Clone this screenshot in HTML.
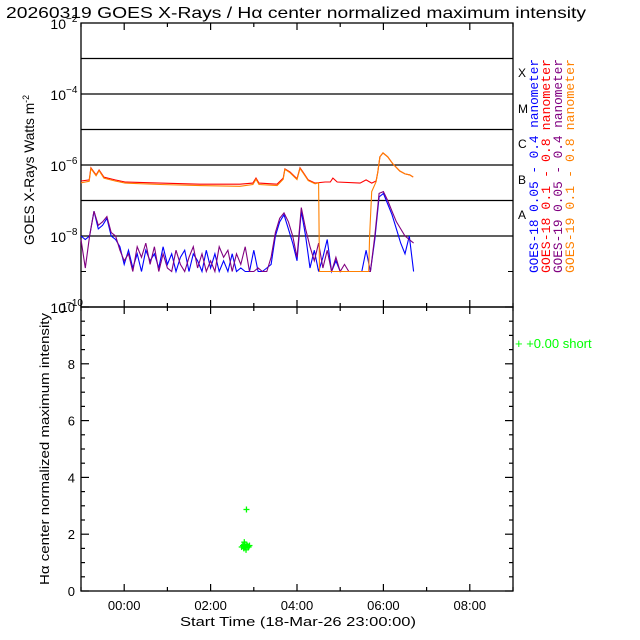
<!DOCTYPE html>
<html><head><meta charset="utf-8"><style>
html,body{margin:0;padding:0;background:#fff;}
svg{display:block;font-family:"Liberation Sans",sans-serif;}
</style></head><body>
<svg id="chart" width="640" height="640" viewBox="0 0 640 640" xmlns="http://www.w3.org/2000/svg">
<rect width="640" height="640" fill="#fff"/>
<text x="6" y="18" font-size="16" textLength="580" lengthAdjust="spacingAndGlyphs">20260319 GOES X-Rays / Hα center normalized maximum intensity</text>
<g id="topPanel"></g>
<g id="botPanel"></g>
<text transform="translate(34,170) rotate(-90)" text-anchor="middle" font-size="14" textLength="150" lengthAdjust="spacingAndGlyphs">GOES X-Rays Watts m<tspan dy="-5" font-size="9">-2</tspan></text>
<text transform="translate(49,449) rotate(-90)" text-anchor="middle" font-size="13" textLength="272" lengthAdjust="spacingAndGlyphs">Hα center normalized maximum intensity</text>
<text x="298" y="626" text-anchor="middle" font-size="13" textLength="236" lengthAdjust="spacingAndGlyphs">Start Time (18-Mar-26 23:00:00)</text>
<g font-family="Liberation Mono, monospace" font-size="12.5">
<text transform="translate(538,273) rotate(-90)" fill="#0000ff" textLength="214" lengthAdjust="spacingAndGlyphs">GOES-18 0.05 - 0.4 nanometer</text>
<text transform="translate(550,273) rotate(-90)" fill="#ff0000" textLength="214" lengthAdjust="spacingAndGlyphs">GOES-18 0.1  - 0.8 nanometer</text>
<text transform="translate(562,273) rotate(-90)" fill="#800080" textLength="214" lengthAdjust="spacingAndGlyphs">GOES-19 0.05 - 0.4 nanometer</text>
<text transform="translate(574,273) rotate(-90)" fill="#ff8000" textLength="214" lengthAdjust="spacingAndGlyphs">GOES-19 0.1  - 0.8 nanometer</text>
</g>
<g font-size="12">
<text x="518" y="77">X</text><text x="518" y="113">M</text><text x="518" y="148">C</text><text x="518" y="184">B</text><text x="518" y="219">A</text>
</g>
<text x="515" y="348" fill="#00ff00" font-size="13">+  +0.00 short</text>
</svg>
<script>
// X-ray data: hours relative to 00:00 on 19-Mar, log10 flux
const longTimes = [-1.0,-0.81,-0.77,-0.65,-0.58,-0.47,-0.21,0.02,0.83,1.75,2.68,2.98,3.05,3.12,3.54,3.68,3.72,3.84,4.0,4.07,4.14,4.26,4.42,4.65,4.77,4.83,4.93,5.46,5.6,5.73,5.83,5.87,5.92,5.99,6.1,6.22,6.38,6.5,6.61,6.69];
const goes18Long = [-6.45,-6.42,-6.08,-6.28,-6.14,-6.34,-6.42,-6.48,-6.51,-6.54,-6.54,-6.51,-6.37,-6.51,-6.54,-6.37,-6.11,-6.2,-6.39,-6.08,-6.2,-6.42,-6.51,-6.48,-6.48,-6.37,-6.48,-6.51,-6.42,-6.51,-6.45,-6.2,-5.77,-5.66,-5.77,-5.97,-6.17,-6.25,-6.28,-6.34];
const orangeTimes = [-1.0,-0.81,-0.77,-0.65,-0.58,-0.47,-0.21,0.02,0.83,1.75,2.68,2.98,3.05,3.12,3.54,3.68,3.72,3.84,4.0,4.07,4.14,4.26,4.42,4.5,4.52,5.66,5.68,5.73,5.83,5.87,5.92,5.99,6.1,6.22,6.38,6.5,6.61,6.69];
const goes19Long = [-6.5,-6.46,-6.1,-6.3,-6.16,-6.37,-6.45,-6.51,-6.55,-6.58,-6.6,-6.55,-6.4,-6.55,-6.58,-6.4,-6.12,-6.22,-6.41,-6.1,-6.22,-6.44,-6.53,-6.5,-9.0,-9.0,-8.0,-6.75,-6.47,-6.2,-5.77,-5.66,-5.77,-5.97,-6.17,-6.25,-6.28,-6.34];
const shortT0 = -1.0, shortStep = 0.1;
const goes19Short = [-8.1,-8.9,-8.0,-7.3,-7.7,-7.6,-7.45,-7.9,-8.0,-8.4,-8.7,-8.5,-9.0,-8.3,-8.6,-8.2,-8.8,-8.3,-9.0,-8.5,-8.9,-9.0,-8.4,-8.8,-9.0,-8.6,-8.3,-8.9,-8.5,-9.0,-8.7,-9.0,-8.3,-8.6,-8.4,-9.0,-8.5,-8.8,-8.3,-9.0,-9.0,-8.9,-9.0,-9.0,-8.6,-7.9,-7.5,-7.35,-7.6,-8.0,-8.6,-7.2,-7.8,-8.3,-8.7,-8.2,-8.9,-8.4,-9.0,-8.6,-9.0,-8.8,-9.0,-9.0,-9.0,-9.0,-9.0,-9.0,-8.0,-6.8,-6.75,-7.0,-7.3,-7.6,-7.8,-8.0,-8.1,-8.2];
const goes18Short = [-8.0,-8.1,-8.0,-7.3,-7.8,-7.7,-7.5,-8.0,-8.1,-8.3,-8.8,-8.4,-8.9,-8.5,-9.0,-8.4,-8.7,-8.5,-8.9,-8.3,-8.8,-8.5,-9.0,-8.6,-8.4,-9.0,-8.5,-8.7,-9.0,-8.4,-8.9,-8.5,-9.0,-8.7,-9.0,-8.5,-9.0,-8.9,-9.0,-9.0,-8.4,-9.0,-9.0,-8.9,-8.8,-8.0,-7.6,-7.4,-7.8,-8.2,-8.7,-7.3,-8.0,-8.9,-8.4,-9.0,-8.6,-8.1,-9.0,-8.7,-9.0,-9.0,-9.0,-9.0,-9.0,-9.0,-8.4,-9.0,-8.1,-6.9,-6.8,-7.1,-7.4,-7.8,-8.2,-8.5,-8.0,-9.0];
// H-alpha points
const haTimes = [2.72,2.75,2.77,2.78,2.8,2.82,2.84,2.86,2.88,2.9,2.79,2.83];
const haValues = [1.55,1.6,1.5,1.72,1.55,1.45,1.62,1.58,1.55,1.6,1.65,2.87];
const xTickLabels = ["00:00","02:00","04:00","06:00","08:00"];
const xTickHours = [0,2,4,6,8];
const yLogTicks = [-2,-4,-6,-8,-10];
const yLinTicks = [0,2,4,6,8,10];

const NS="http://www.w3.org/2000/svg";
const L=81,R=513,XMIN=-1,XMAX=9;
const TT=23,TB=307,LOGMAX=-2,LOGMIN=-10;
const BT=307,BB=591,VMAX=10;
const x=t=>L+(t-XMIN)/(XMAX-XMIN)*(R-L);
const yl=v=>TT+(LOGMAX-v)/(LOGMAX-LOGMIN)*(TB-TT);
const yv=v=>BB-v/VMAX*(BB-BT);
function mk(tag,attrs,parent){const e=document.createElementNS(NS,tag);for(const k in attrs)e.setAttribute(k,attrs[k]);parent.appendChild(e);return e;}
const topG=document.getElementById('topPanel'),botG=document.getElementById('botPanel');

let f1=mk('rect',{x:L,y:TT,width:R-L,height:TB-TT,fill:'none',stroke:'#000','stroke-width':1.3},topG);


let f2=mk('rect',{x:L,y:BT,width:R-L,height:BB-BT,fill:'none',stroke:'#000','stroke-width':1.3},botG);



for(let d=-3;d>=-8;d--){
  const ln=mk('line',{x1:L,x2:R,y1:yl(d),y2:yl(d),stroke:'#000','stroke-width':1.3},topG);
  
  
}
yLogTicks.forEach(v=>{
  const t=mk('text',{x:L-15,y:yl(v)+6,'text-anchor':'end','font-size':14},topG);
  
  
  t.textContent='10';
  const s=mk('text',{x:L-15,y:yl(v)-1,'font-size':10},topG);
  
  
  s.textContent='−'+(-v);
});
mk('line',{x1:L,x2:L+5,y1:yl(-9),y2:yl(-9),stroke:'#000'},topG);
mk('line',{x1:R-5,x2:R,y1:yl(-9),y2:yl(-9),stroke:'#000'},topG);

for(let h=XMIN;h<=XMAX;h++){
  const len=(h%2===0)?7:4;
  [[TT,1],[TB,-1],[BT,1],[BB,-1]].forEach(([yy,dir])=>{
    const tk=mk('line',{x1:x(h),x2:x(h),y1:yy,y2:yy+dir*len,stroke:'#000','stroke-width':1.2},topG);
    
    
  });
}
xTickLabels.forEach((lab,i)=>{
  const t=mk('text',{x:x(xTickHours[i]),y:610,'text-anchor':'middle','font-size':13},botG);
  
  
  t.textContent=lab;
});
for(let v=0;v<=VMAX;v+=0.5){
  const len=(v%2===0)?8:4;
  mk('line',{x1:L,x2:L+len,y1:yv(v),y2:yv(v),stroke:'#000','stroke-width':1.2},botG);
  mk('line',{x1:R-len,x2:R,y1:yv(v),y2:yv(v),stroke:'#000','stroke-width':1.2},botG);
}
yLinTicks.forEach(v=>{
  const t=mk('text',{x:L-6,y:yv(v)+5,'text-anchor':'end','font-size':13},botG);
  
  
  t.textContent=String(v);
});

function line(times,vals,color,name){
  const pts=vals.map((v,i)=>x(times[i]).toFixed(1)+','+yl(v).toFixed(1)).join(' ');
  const p=mk('polyline',{points:pts,fill:'none',stroke:color,'stroke-width':1.1,'stroke-linejoin':'miter'},topG);
  
  
}
const shortTimes=goes18Short.map((_,i)=>shortT0+i*shortStep);
line(shortTimes,goes18Short,'#0000ff','goes18-short-series');
line(shortTimes,goes19Short,'#800080','goes19-short-series');
line(longTimes,goes18Long,'#ff0000','goes18-long-series');
line(orangeTimes,goes19Long,'#ff8000','goes19-long-series');

haTimes.forEach((t,i)=>{
  const g=mk('g',{stroke:'#00ff00','stroke-width':1.3},botG);
  
  
  const cx=x(t),cy=yv(haValues[i]);
  mk('line',{x1:cx-3,x2:cx+3,y1:cy,y2:cy},g);
  mk('line',{x1:cx,x2:cx,y1:cy-3,y2:cy+3},g);
});
</script>
</body></html>
